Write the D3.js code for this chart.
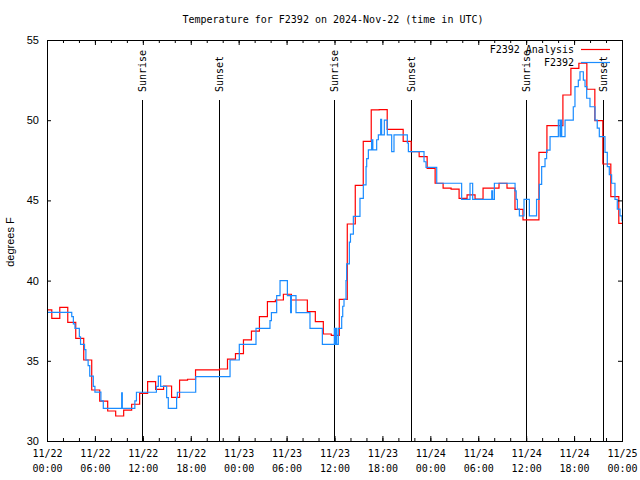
<!DOCTYPE html>
<html>
<head>
<meta charset="utf-8">
<script src="https://cdn.jsdelivr.net/npm/d3@7"></script>
<style>
  html, body { margin: 0; padding: 0; background: #fff; }
  svg { display: block; }
</style>
</head>
<body>
<svg id="chart" width="640" height="480"></svg>
<script>
// ---- data (hours after 2024-11-22 00:00 UTC) ----
const title = "Temperature for F2392 on 2024-Nov-22 (time in UTC)";
const yLabel = "degrees F";
const yTicks = [30, 35, 40, 45, 50, 55];
const seriesNames = ["F2392 Analysis", "F2392"];

// analysis: hourly values, each valid from hour (i-0.4)
const analysisValues = [
  38.17, 37.65, 38.33, 37.40, 36.40, 35.05, 33.18, 32.49, 31.87, 31.56,
  31.93, 32.29, 32.97, 33.70, 33.22, 33.43, 32.72, 33.80, 33.85, 34.43,
  34.43, 34.43, 34.49, 35.10, 35.45, 36.30, 36.85, 37.75, 38.69, 38.79,
  39.15, 38.79, 38.79, 38.06, 37.44, 36.67, 36.58, 38.83, 43.53, 45.94,
  48.68, 50.64, 50.66, 49.43, 49.43, 48.68, 48.04, 47.73, 47.00, 46.07,
  45.76, 45.70, 45.13, 45.34, 45.08, 45.76, 45.76, 46.07, 45.76, 44.44,
  43.78, 43.78, 48.00, 49.66, 49.66, 51.57, 53.23, 53.55, 51.93, 49.97,
  47.27, 45.23, 43.57
];

// observations: time (hours) and value
const obsHours = [
  0, 3.1, 3.3, 3.5, 4.05, 4.2, 4.7, 4.87, 5.15, 5.35,
  5.8, 6.0, 6.75, 7.05, 9.35, 9.43, 11.0, 11.2, 13.7, 13.94,
  14.23, 14.98, 15.19, 16.23, 16.32, 18.62, 22.92, 24.08, 26.17, 27.92,
  28.1, 28.76, 29.18, 30.1, 30.5, 30.6, 31.18, 32.93, 34.48, 35.98,
  36.05, 36.15, 36.27, 36.48, 36.9, 37.03, 37.19, 37.44, 37.52, 37.86,
  38.0, 38.36, 39.19, 39.61, 39.95, 40.03, 40.24, 40.65, 40.8, 41.28,
  41.49, 41.78, 41.9, 42.24, 42.61, 43.16, 43.45, 45.12, 45.25, 47.21,
  47.46, 48.8, 51.92, 52.97, 53.3, 55.69, 55.8, 56.02, 58.61, 58.75,
  58.9, 59.15, 59.73, 60.4, 61.3, 61.65, 61.94, 62.36, 62.56, 62.99,
  64.03, 64.24, 64.32, 64.45, 64.87, 65.9, 66.11, 66.53, 66.74, 67.16,
  67.37, 67.58, 67.99, 68.62, 68.9, 69.16, 69.87, 70.16, 70.41, 70.7,
  71.12, 71.41, 71.75, 72
];
const obsValues = [
  38.02, 37.75, 37.30, 37.02, 36.50, 36.02, 35.70, 35.05, 34.70, 34.05,
  33.40, 33.05, 32.50, 32.04, 33.00, 32.04, 32.50, 33.04, 33.40, 34.05,
  33.40, 32.70, 32.04, 32.70, 33.04, 34.01, 35.05, 36.03, 37.02, 37.50,
  38.00, 39.06, 40.00, 39.06, 38.00, 39.06, 38.00, 37.02, 36.03, 37.02,
  36.03, 37.02, 36.03, 37.02, 37.75, 38.40, 38.83, 40.00, 41.04, 42.40,
  42.90, 44.01, 45.13, 45.97, 47.10, 47.60, 48.15, 48.78, 48.15, 48.78,
  49.08, 50.05, 49.08, 50.00, 49.08, 48.04, 49.08, 48.58, 48.04, 47.41,
  47.06, 46.07, 45.07, 46.07, 45.07, 45.60, 45.07, 46.07, 45.60, 45.07,
  44.45, 44.03, 45.07, 44.03, 45.07, 46.00, 47.10, 47.60, 48.14, 48.97,
  50.00, 48.97, 50.00, 48.97, 50.00, 50.84, 52.09, 52.50, 53.02, 52.50,
  52.09, 51.37, 50.84, 50.00, 49.50, 48.97, 48.00, 47.10, 46.60, 46.07,
  45.07, 44.45, 44.03, 43.70
];

const sunEventHours = [11.9, 21.54, 35.94, 45.58, 59.98, 69.62];
const sunEventLabels = ["Sunrise", "Sunset", "Sunrise", "Sunset", "Sunrise", "Sunset"];

// ---- layout ----
const t0 = Date.UTC(2024, 10, 22);
const toDate = h => new Date(t0 + h * 3600e3);
const L = 47, R = 622, T = 40, B = 441;
const mono = "'DejaVu Sans Mono', 'Liberation Mono', monospace";
const sans = "'Liberation Sans', Arial, sans-serif";

const svg = d3.select("#chart");
const x = d3.scaleUtc().domain([toDate(0), toDate(72)]).range([L, R]);
const y = d3.scaleLinear().domain([30, 55]).range([B, T]);

// title
svg.append("text").attr("x", 333).attr("y", 23).attr("text-anchor", "middle")
  .style("font-family", mono).style("font-size", "10px").text(title);

// sunrise / sunset
const sun = svg.append("g");
sunEventHours.forEach((h, i) => {
  const sx = Math.round(x(toDate(h))) + 0.5;
  sun.append("line").attr("x1", sx).attr("x2", sx).attr("y1", B).attr("y2", 100)
    .attr("stroke", "#000").attr("stroke-width", 1);
  sun.append("text").attr("transform", `translate(${sx},92) rotate(-90)`)
    .attr("dy", "0.35em").attr("text-anchor", "start")
    .style("font-family", mono).style("font-size", "10px").text(sunEventLabels[i]);
});

// data lines
const redData = analysisValues.map((v, i) => [i === 0 ? 0 : i - 0.4, v]);
redData.push([72, analysisValues[analysisValues.length - 1]]);
const blueData = obsHours.map((h, i) => [h, obsValues[i]]);

const line = d3.line().x(d => x(toDate(d[0]))).y(d => y(d[1])).curve(d3.curveStepAfter);
svg.append("clipPath").attr("id", "clip").append("rect")
  .attr("x", L).attr("y", T).attr("width", R - L).attr("height", B - T);
svg.append("path").datum(redData).attr("d", line).attr("fill", "none")
  .attr("stroke", "#ff0000").attr("stroke-width", 1.2).attr("clip-path", "url(#clip)");
svg.append("path").datum(blueData).attr("d", line).attr("fill", "none")
  .attr("stroke", "#1a8cff").attr("stroke-width", 1.2).attr("clip-path", "url(#clip)");

// axes
const minorVals = d3.range(0, 73, 2).map(toDate);
const majorVals = d3.range(0, 73, 6).map(toDate);
function styleAxis(g) {
  g.select(".domain").remove();
  g.selectAll("line").attr("stroke", "#000");
}
svg.append("g").attr("transform", `translate(0,${B})`)
  .call(d3.axisBottom(x).tickValues(minorVals).tickSize(-3).tickFormat(""))
  .call(styleAxis);
svg.append("g").attr("transform", `translate(0,${T})`)
  .call(d3.axisTop(x).tickValues(minorVals).tickSize(-3).tickFormat(""))
  .call(styleAxis);
svg.append("g").attr("transform", `translate(0,${T})`)
  .call(d3.axisTop(x).tickValues(majorVals).tickSize(-5).tickFormat(""))
  .call(styleAxis);
const xb = svg.append("g").attr("transform", `translate(0,${B})`)
  .call(d3.axisBottom(x).tickValues(majorVals).tickSize(-5).tickFormat(""))
  .call(styleAxis);
xb.selectAll(".tick").each(function(d) {
  const t = d3.select(this).append("text").attr("fill", "#000")
    .attr("text-anchor", "middle")
    .style("font-family", mono).style("font-size", "10px");
  t.append("tspan").attr("x", 0).attr("y", 16).text(d3.utcFormat("%m/%d")(d));
  t.append("tspan").attr("x", 0).attr("y", 31).text(d3.utcFormat("%H:%M")(d));
});

const yl = svg.append("g").attr("transform", `translate(${L},0)`)
  .call(d3.axisLeft(y).tickValues(yTicks).tickSize(-4).tickPadding(8))
  .call(styleAxis);
yl.selectAll("text").style("font-family", sans).style("font-size", "11px").attr("fill", "#000");
svg.append("g").attr("transform", `translate(${R},0)`)
  .call(d3.axisRight(y).tickValues(yTicks).tickSize(-4).tickFormat(""))
  .call(styleAxis);

// frame
svg.append("rect").attr("x", L + 0.5).attr("y", T + 0.5).attr("width", R - L).attr("height", B - T)
  .attr("fill", "none").attr("stroke", "#000").attr("stroke-width", 1);

// y label
svg.append("text").attr("transform", "translate(14,242) rotate(-90)")
  .attr("text-anchor", "middle").style("font-family", sans).style("font-size", "11px")
  .text(yLabel);

// legend
const legendColors = ["#ff0000", "#1a8cff"];
seriesNames.forEach((name, i) => {
  const ly = 49 + i * 13;
  svg.append("text").attr("x", 574).attr("y", ly + 3.5).attr("text-anchor", "end")
    .style("font-family", mono).style("font-size", "10px").text(name);
  svg.append("line").attr("x1", 581).attr("x2", 610).attr("y1", ly + 0.5).attr("y2", ly + 0.5)
    .attr("stroke", legendColors[i]).attr("stroke-width", 1.2);
});
</script>
</body>
</html>
